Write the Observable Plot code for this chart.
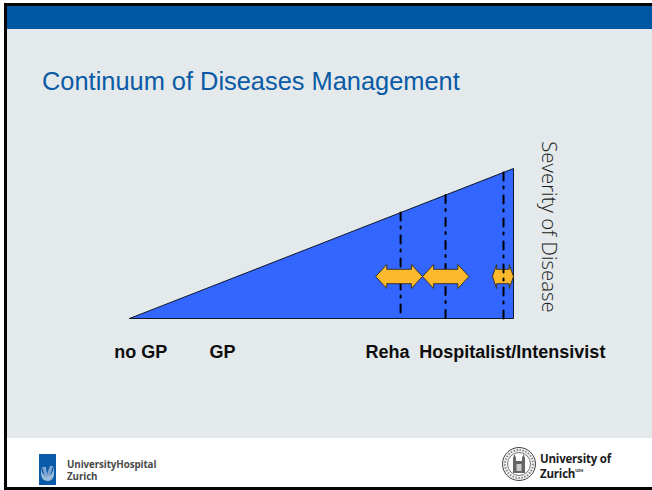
<!DOCTYPE html>
<html><head><meta charset="utf-8">
<script src="https://cdn.jsdelivr.net/npm/d3@7"></script>
<script src="https://cdn.jsdelivr.net/npm/@observablehq/plot@0.6"></script>
<style>
html,body{margin:0;padding:0;background:#fff;overflow:hidden}
#page{position:relative;width:652px;height:490px;overflow:hidden;font-family:"Liberation Sans",Arial,sans-serif;background:#fff}
.blk{position:absolute;background:#050505}
#band{position:absolute;left:7px;right:0;top:6px;height:23px;background:#0058a3}
#bg{position:absolute;left:7px;right:0;top:29px;height:409px;background:#e4e9eb}
#title{position:absolute;left:42px;top:66px;font-size:25.4px;line-height:30px;color:#0a5aa5;white-space:nowrap}
#chart{position:absolute;left:0;top:0}
#chart svg{background:transparent;overflow:visible}
.foot{position:absolute;font-weight:bold;white-space:nowrap}
</style></head><body>
<div id="page">
<div id="band"></div><div id="bg"></div>
<div class="blk" style="left:4px;top:3px;width:3px;height:487px"></div>
<div class="blk" style="left:4px;top:3px;right:0;height:3px"></div>
<div class="blk" style="left:4px;top:487px;right:0;height:3px"></div>
<div id="title">Continuum of Diseases Management</div>
<div id="chart"></div>
<svg style="position:absolute;left:39px;top:454px" width="17" height="31" viewBox="0 0 17 31"><rect width="17" height="31" fill="#0b5ba8"/><path d="M2 14q1 8 6 8q6 0 7-10l0 9q-1 6-7 6q-6-1-6-8z" fill="#9dbbdc"/><path d="M3 13l4 0l1 7l3-8l3 0l-3 10l-5 1z" fill="#7fa5d0"/></svg>
<div class="foot" style="left:67px;top:459px;font-size:9.8px;line-height:12px;color:#4a4a4a;font-family:'Open Sans';letter-spacing:-.1px">UniversityHospital<br>Zurich</div>
<svg style="position:absolute;left:501px;top:446px" width="36" height="36" viewBox="0 0 36 36"><circle cx="18" cy="18" r="16.5" fill="#f4f4f4" stroke="#444" stroke-width="1"/><circle cx="18" cy="18" r="11.5" fill="#fff" stroke="#777" stroke-width="1"/><circle cx="18" cy="18" r="14" fill="none" stroke="#888" stroke-width="2" stroke-dasharray="1.5 1.5"/><path d="M12 27V12l1.5-4 1.5 4v3h6v-3l1.5-4 1.5 4v15z" fill="#666"/><path d="M15.5 18h5v7h-5z" fill="#ccc"/></svg>
<div class="foot" style="left:540px;top:451px;font-size:11.5px;line-height:15px;color:#1b1b1b;font-family:'Open Sans';letter-spacing:-.2px">University of<br>Zurich<sup style="font-size:4px;line-height:0;vertical-align:6px">UZH</sup></div>
</div>
<script>
// Continuum of care (0 = no GP, 100 = top of care) against severity of disease
const wedgeContinuum = [0, 100, 100, 0];
const wedgeSeverity = [0, 100, 0, 0];
const dividers = [70.6, 82.3, 97.4];
const arrowStarts = [64.1, 76.3, 94.5];
const arrowEnds = [76.3, 88.4, 100];
const arrowHeads = [2.9, 2.9, 1.1];
const arrowSeverity = 28;
const stageLabels = ["no GP", "GP", "Reha", "Hospitalist/Intensivist"];
const stagePositions = [2.9, 24.2, 67.2, 99.7];
const stageSeverity = -22.7;
const axisTitle = "Severity of Disease";

const wedge = wedgeContinuum.map((x, i) => ({x, y: wedgeSeverity[i]}));
const dividerLines = dividers.flatMap((x) => [{x, y: x, k: x}, {x, y: 0, k: x}]);
const halfShaft = 4.8, halfHead = 8;
const arrows = arrowStarts.flatMap((a, i) => {
  const b = arrowEnds[i], c = arrowSeverity, head = arrowHeads[i];
  return [[a, c], [a + head, c + halfHead], [a + head, c + halfShaft], [b - head, c + halfShaft], [b - head, c + halfHead], [b, c],
          [b - head, c - halfHead], [b - head, c - halfShaft], [a + head, c - halfShaft], [a + head, c - halfHead], [a, c]]
    .map(([x, y]) => ({x, y, k: i}));
});
const stages = stageLabels.map((label, i) => ({label, x: stagePositions[i], y: stageSeverity}));

const chart = Plot.plot({
  width: 652, height: 490,
  marginLeft: 129, marginRight: 139, marginTop: 168, marginBottom: 172,
  x: {domain: [0, 100], axis: null},
  y: {domain: [0, 100], axis: null},
  marks: [
    Plot.line(wedge, {x: "x", y: "y", fill: "#3366ff", stroke: "#101828", strokeWidth: 1}),
    Plot.line(dividerLines.filter(d => d.k < 90), {x: "x", y: "y", z: "k", stroke: "#000", strokeWidth: 2, strokeDasharray: "8,6,2,7"}),
    Plot.line(arrows, {x: "x", y: "y", z: "k", fill: "#fdb92e", stroke: "#3a3320", strokeWidth: 1}),
    Plot.line(dividerLines.filter(d => d.k > 90), {x: "x", y: "y", z: "k", stroke: "#000", strokeWidth: 2, strokeDasharray: "8,6,2,7"}),
    Plot.text(stages, {x: "x", y: "y", text: "label", fontFamily: "Liberation Sans", fontWeight: "bold", fontSize: 18, fill: "#0d0d0d"}),
    Plot.text([axisTitle], {x: [109.1], y: [61], text: d => d, rotate: 90, fontFamily: "Open Sans", fontWeight: 300, fontSize: 20.4, fill: "#1a1a1a"})
  ]
});
document.getElementById("chart").append(chart);
</script>
</body></html>
